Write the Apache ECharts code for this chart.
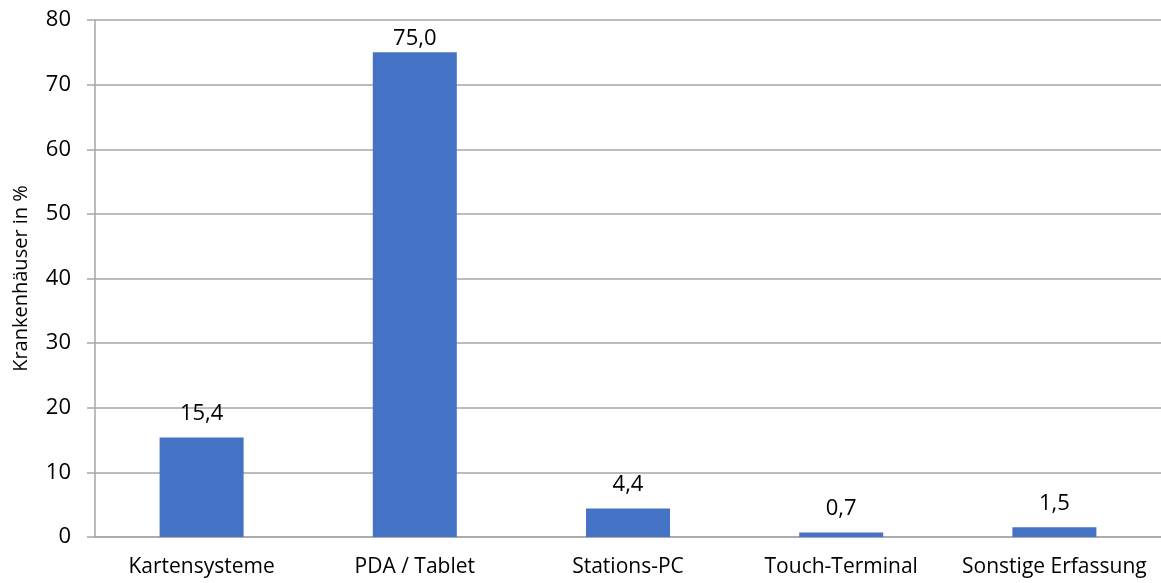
<!DOCTYPE html>
<html>
<head>
<meta charset="utf-8">
<script src="https://cdn.jsdelivr.net/npm/echarts@6/dist/echarts.min.js"></script>
<style>html,body{margin:0;padding:0;background:#fff}#c{width:1161px;height:583px}</style>
</head>
<body>
<div id="c"></div>
<script>
const categories = ['Kartensysteme', 'PDA / Tablet', 'Stations-PC', 'Touch-Terminal', 'Sonstige Erfassung'];
const values = [15.4, 75.0, 4.4, 0.7, 1.5];
const yAxisName = 'Krankenhäuser in %';

const chart = echarts.init(document.getElementById('c'));
const font = '"Open Sans", sans-serif';
const yMax = 80;
// labels near the top of the plot are pulled closer to the bar (as in the original)
const seriesData = values.map(v => (v > yMax * 0.85 ? { value: v, label: { distance: 3 } } : v));

chart.setOption({
  animation: false,
  textStyle: { fontFamily: font },
  grid: { left: 95, right: 0, top: 20, bottom: 46, containLabel: false, outerBoundsMode: 'none' },
  xAxis: {
    type: 'category',
    data: categories,
    axisLine: { lineStyle: { color: '#a6a6a6', width: 1.5 } },
    axisTick: { show: false },
    axisLabel: { color: '#000', fontSize: 21, fontFamily: font, margin: 20, interval: 0 }
  },
  yAxis: {
    type: 'value',
    min: 0, max: yMax, interval: 10,
    name: yAxisName,
    nameLocation: 'middle',
    nameGap: 64,
    nameTextStyle: { color: '#000', fontSize: 20, fontFamily: font },
    axisLine: { show: true, lineStyle: { color: '#a6a6a6', width: 1.5 } },
    axisTick: { show: true, length: 8, lineStyle: { color: '#a6a6a6', width: 1.5 } },
    axisLabel: { color: '#000', fontSize: 22, fontFamily: font, margin: 24 },
    splitLine: { lineStyle: { color: '#a6a6a6', width: 1.5 } }
  },
  series: [{
    type: 'bar',
    data: seriesData,
    barWidth: 84,
    itemStyle: { color: '#4472C4' },
    label: {
      show: true,
      position: 'top',
      distance: 13,
      color: '#000',
      fontSize: 22,
      fontFamily: font,
      formatter: p => p.value.toFixed(1).replace('.', ',')
    }
  }]
});
</script>
</body>
</html>
